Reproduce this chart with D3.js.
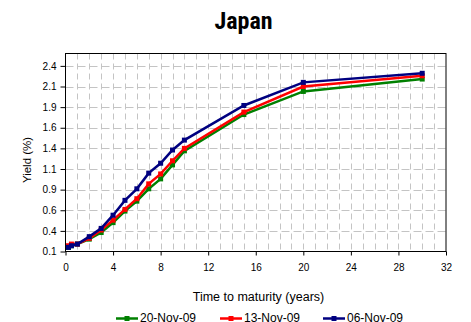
<!DOCTYPE html>
<html><head><meta charset="utf-8">
<script src="https://cdn.jsdelivr.net/npm/d3@7"></script>
<style>
html,body{margin:0;padding:0;background:#fff;}
svg{display:block;}
text{font-family:"Liberation Sans",Arial,sans-serif;fill:#000;}
</style></head>
<body>
<script>
const maturities = [0.25, 0.5, 1, 2, 3, 4, 5, 6, 7, 8, 9, 10, 15, 20, 30];
const seriesNames = ["20-Nov-09", "13-Nov-09", "06-Nov-09"];
const nov20 = [0.15, 0.17, 0.19, 0.25, 0.33, 0.45, 0.59, 0.71, 0.86, 0.98, 1.15, 1.32, 1.76, 2.04, 2.19];
const nov13 = [0.17, 0.19, 0.19, 0.26, 0.36, 0.48, 0.61, 0.74, 0.92, 1.04, 1.20, 1.35, 1.79, 2.10, 2.23];
const nov06 = [0.15, 0.17, 0.19, 0.28, 0.38, 0.54, 0.72, 0.86, 1.05, 1.17, 1.33, 1.45, 1.87, 2.15, 2.26];
const seriesColors = ["#008000", "#ff0000", "#000080"];
const xTicks = [0, 4, 8, 12, 16, 20, 24, 28, 32];
const yTicks = [0.1, 0.35, 0.6, 0.85, 1.1, 1.35, 1.6, 1.85, 2.1, 2.35];
const yTickLabels = ["0.1", "0.4", "0.6", "0.9", "1.1", "1.4", "1.6", "1.9", "2.1", "2.4"];

const W = 471, H = 322;
const L = 65.5, R = 446, T = 53.5, B = 251.5;
const svg = d3.select("body").append("svg").attr("width", W).attr("height", H);

const x = d3.scaleLinear().domain([0, 32]).range([L, R]);
const y = d3.scaleLinear().domain([0.1, 2.5]).range([B, T]);

// grid
const grid = svg.append("g").attr("stroke", "#c4c4c4").attr("stroke-width", 1).attr("fill", "none");
grid.selectAll("line.v").data(d3.range(1, 32)).join("line")
  .attr("x1", d => Math.round(x(d)) + 0.5).attr("x2", d => Math.round(x(d)) + 0.5)
  .attr("y1", T).attr("y2", B)
  .attr("stroke-dasharray", "6,4");
grid.selectAll("line.h").data(yTicks.slice(1)).join("line")
  .attr("x1", L).attr("x2", R)
  .attr("y1", d => Math.round(y(d)) + 0.5).attr("y2", d => Math.round(y(d)) + 0.5)
  .attr("stroke-dasharray", "8,4");

// frame
svg.append("rect").attr("x", L).attr("y", T).attr("width", R - L).attr("height", B - T)
  .attr("fill", "none").attr("stroke", "#000").attr("stroke-width", 1);

// axes
const xAxis = d3.axisBottom(x).tickValues(xTicks).tickFormat(d3.format("d")).tickSize(4).tickPadding(8.5);
const gx = svg.append("g").attr("transform", `translate(0,${B})`).call(xAxis);
gx.select(".domain").remove();
gx.selectAll("text").style("font-size", "10px").style("font-family", "'Liberation Sans', Arial, sans-serif");

const yAxis = d3.axisLeft(y).tickValues(yTicks).tickFormat((d, i) => yTickLabels[i]).tickSize(5).tickPadding(4);
const gy = svg.append("g").attr("transform", `translate(${L},0)`).call(yAxis);
gy.select(".domain").remove();
gy.selectAll("text").style("font-size", "10px").style("font-family", "'Liberation Sans', Arial, sans-serif");

// series
const allSeries = [nov20, nov13, nov06];
const line = d3.line().x((d, i) => x(maturities[i])).y(d => y(d));
allSeries.forEach((vals, si) => {
  const g = svg.append("g");
  g.append("path").datum(vals).attr("d", line).attr("fill", "none")
    .attr("stroke", seriesColors[si]).attr("stroke-width", 2.5);
  g.selectAll("rect").data(vals).join("rect")
    .attr("x", (d, i) => x(maturities[i]) - 2.5).attr("y", d => y(d) - 2.5)
    .attr("width", 5).attr("height", 5).attr("fill", seriesColors[si]);
});

// titles
svg.append("text").attr("x", 243.5).attr("y", 29).attr("text-anchor", "middle")
  .style("font-family", "'Roboto Condensed','Liberation Sans Narrow','Arial Narrow',sans-serif")
  .style("font-weight", "bold").style("font-size", "24px").text("Japan");
svg.append("text").attr("transform", "translate(30.5,160) rotate(-90)").attr("text-anchor", "middle")
  .style("font-size", "11.5px").text("Yield (%)");
svg.append("text").attr("x", 258.5).attr("y", 301).attr("text-anchor", "middle")
  .style("font-size", "12.5px").text("Time to maturity (years)");

// legend
const legX = [116, 220, 323];
seriesNames.forEach((name, i) => {
  const g = svg.append("g");
  g.append("line").attr("x1", legX[i]).attr("x2", legX[i] + 22).attr("y1", 318.5).attr("y2", 318.5)
    .attr("stroke", seriesColors[i]).attr("stroke-width", 2.5);
  g.append("rect").attr("x", legX[i] + 8.5).attr("y", 316).attr("width", 5).attr("height", 5).attr("fill", seriesColors[i]);
  g.append("text").attr("x", legX[i] + 24).attr("y", 322).style("font-size", "12px").text(name);
});
</script>
</body></html>
